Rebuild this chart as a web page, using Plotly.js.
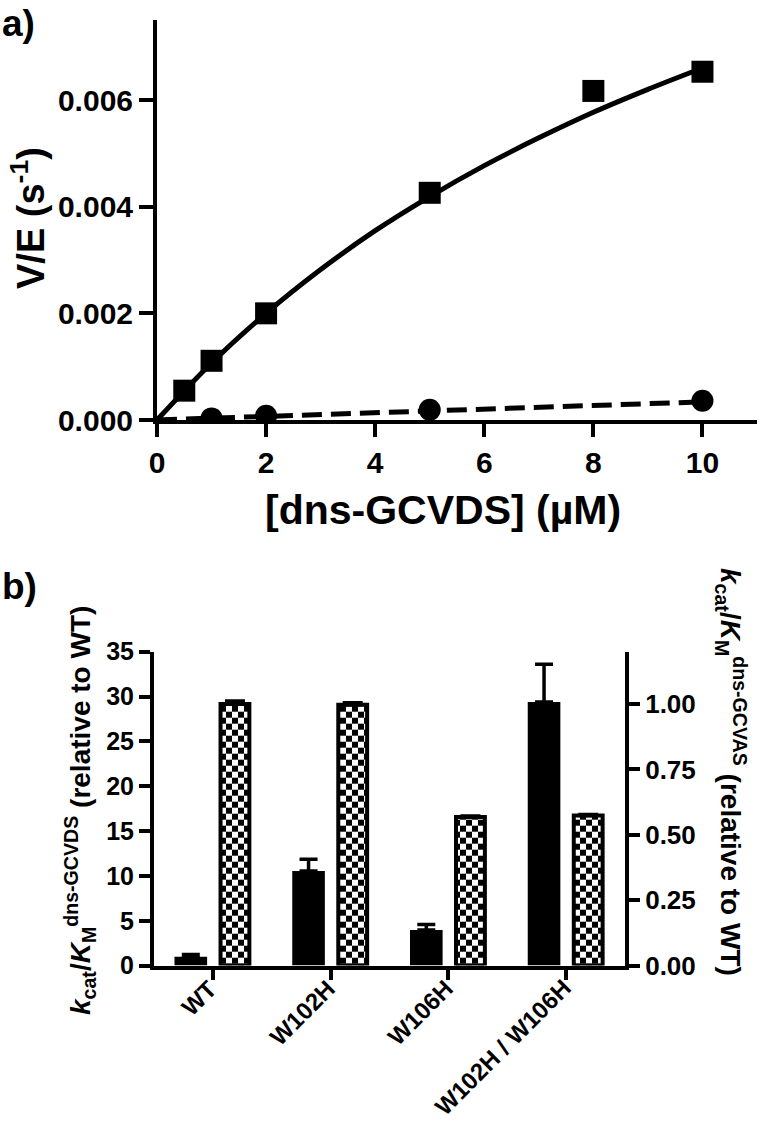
<!DOCTYPE html>
<html>
<head>
<meta charset="utf-8">
<script src="https://cdn.plot.ly/plotly-3.0.1.min.js"></script>
<style>html,body{margin:0;padding:0;background:#fff;}#plot{width:760px;height:1122px;}</style>
</head>
<body>
<div id="plot"></div>
<script>
// ---- Panel a data ----
const concX = [0.5, 1, 2, 5, 8, 10];
const wtRate = [0.00055, 0.00111, 0.00200, 0.00426, 0.00617, 0.00653];
const mutX = [1, 2, 5, 10];
const mutRate = [0.00003, 0.00008, 0.00019, 0.00036];
const fitX = [0, 1, 2, 3, 4, 5, 6, 7, 8, 9, 10];
const fitWT = [0, 0.00107, 0.00200, 0.00282, 0.00355, 0.00419, 0.00477, 0.00529, 0.00577, 0.00620, 0.00660];
const fitMutX = [0, 5, 10];
const fitMut = [0, 0.00017, 0.00034];
const xTicksA = [0, 2, 4, 6, 8, 10];
const yTicksA = [0, 0.002, 0.004, 0.006];

// ---- Panel b data ----
const variants = ['WT', 'W102H', 'W106H', 'W102H / W106H'];
const gcvdsRel = [1.0, 10.55, 3.98, 29.4];
const gcvdsErr = [0.25, 1.3, 0.6, 4.2];
const gcvasRel = [1.0, 0.997, 0.568, 0.574];
const gcvasErr = [0.012, 0.008, 0.004, 0.004];
const yTicksBLeft = [0, 5, 10, 15, 20, 25, 30, 35];
const yTicksBRight = [0, 0.25, 0.5, 0.75, 1.0];

const W = 760, H = 1122;
const px = v => v / W;
const py = v => 1 - v / H;
const FONT = 'Arial, "Liberation Sans", sans-serif';
const zeros = a => a.map(() => 0);

const traces = [
  {x: fitX, y: fitWT, xaxis: 'x', yaxis: 'y', mode: 'lines', line: {color: '#000', width: 5, shape: 'spline'}, hoverinfo: 'skip'},
  {x: fitMutX, y: fitMut, xaxis: 'x', yaxis: 'y', mode: 'lines', line: {color: '#000', width: 5, dash: '20px,9px'}, hoverinfo: 'skip'},
  {x: concX, y: wtRate, xaxis: 'x', yaxis: 'y', mode: 'markers', marker: {symbol: 'square', size: 22, color: '#000'}},
  {x: mutX, y: mutRate, xaxis: 'x', yaxis: 'y', mode: 'markers', marker: {symbol: 'circle', size: 22, color: '#000'}},
  {type: 'bar', x: variants, y: gcvdsRel, xaxis: 'x2', yaxis: 'y2', width: 0.277, offset: -0.326,
   marker: {color: '#000', line: {width: 0}},
   error_y: {type: 'data', symmetric: false, array: gcvdsErr, arrayminus: zeros(gcvdsErr), color: '#000', thickness: 3.5, width: 9}},
  {type: 'bar', x: variants, y: gcvasRel, xaxis: 'x2', yaxis: 'y3', width: 0.245, offset: 0.065,
   marker: {color: '#fff', line: {width: 4, color: '#000'},
     pattern: {shape: '+', size: 12, solidity: 0.5, fgcolor: '#000', bgcolor: '#fff', fillmode: 'replace'}},
   error_y: {type: 'data', symmetric: false, array: gcvasErr, arrayminus: zeros(gcvasErr), color: '#000', thickness: 3.5, width: 10}}
];

const axisCommon = {
  showline: true, linecolor: '#000', linewidth: 4, showgrid: false, zeroline: false,
  ticks: 'outside', tickcolor: '#000', tickwidth: 4, fixedrange: true
};

// category tick labels of panel b, rotated like the reference
const catLabels = variants.map((v, i) => ({
  text: v, xref: 'x2', yref: 'paper', x: i, y: py(973), xshift: 11,
  xanchor: 'right', yanchor: 'top', textangle: -45, showarrow: false, borderpad: 0,
  font: {family: FONT, size: 24, weight: 'bold', color: '#000'}
}));

const layout = {
  width: W, height: H,
  margin: {l: 0, r: 0, t: 0, b: 0},
  paper_bgcolor: '#fff', plot_bgcolor: 'rgba(0,0,0,0)',
  showlegend: false, barmode: 'overlay',
  font: {family: FONT, color: '#000'},
  xaxis: Object.assign({}, axisCommon, {
    domain: [px(157), px(757)], range: [0, 11], tickvals: xTicksA, ticklen: 13,
    tickfont: {family: FONT, size: 30, weight: 'bold', color: '#000'}, anchor: 'y'
  }),
  yaxis: Object.assign({}, axisCommon, {
    domain: [py(420), py(20)], range: [0, 0.0075], tickvals: yTicksA, tickformat: '.3f', ticklen: 14,
    tickfont: {family: FONT, size: 30, weight: 'bold', color: '#000'}, anchor: 'x'
  }),
  xaxis2: Object.assign({}, axisCommon, {
    domain: [px(154), px(625)], range: [-0.5, 3.5], type: 'category', ticklen: 10,
    showticklabels: false, anchor: 'y2'
  }),
  yaxis2: Object.assign({}, axisCommon, {
    domain: [py(965.6), py(651.7)], range: [0, 35], tickvals: yTicksBLeft, ticklen: 11,
    tickfont: {family: FONT, size: 25, weight: 'bold', color: '#000'}, anchor: 'x2'
  }),
  yaxis3: Object.assign({}, axisCommon, {
    domain: [py(965.6), py(651.7)], range: [0, 1.2], tickvals: yTicksBRight, tickformat: '.2f', ticklen: 11,
    side: 'right', overlaying: 'y2', anchor: 'x2',
    tickfont: {family: FONT, size: 26, weight: 'bold', color: '#000'}
  }),
  annotations: [
    {text: 'a)', xref: 'paper', yref: 'paper', x: 0, y: py(24), xanchor: 'left', yanchor: 'middle', showarrow: false,
     font: {family: FONT, size: 37, weight: 'bold', color: '#000'}},
    {text: 'b)', xref: 'paper', yref: 'paper', x: 0, y: py(586), xanchor: 'left', yanchor: 'middle', showarrow: false,
     font: {family: FONT, size: 37, weight: 'bold', color: '#000'}},
    {text: 'V/E (s<sup>-1</sup>)', xref: 'paper', yref: 'paper', x: px(28), y: py(218), xanchor: 'center', yanchor: 'middle',
     textangle: -90, showarrow: false, font: {family: FONT, size: 38, weight: 'bold', color: '#000'}},
    {text: '[dns-GCVDS] (\u00b5M)', xref: 'paper', yref: 'paper', x: px(443), y: py(510), xanchor: 'center', yanchor: 'middle',
     showarrow: false, font: {family: FONT, size: 41, weight: 'bold', color: '#000'}},
    {text: '<i>k</i><sub>cat</sub>/<i>K</i><sub>M</sub><sup>dns-GCVDS</sup> (relative to WT)', xref: 'paper', yref: 'paper',
     x: px(80), y: py(811), xanchor: 'center', yanchor: 'middle', textangle: -90, showarrow: false,
     font: {family: FONT, size: 28, weight: 'bold', color: '#000'}},
    {text: '<i>k</i><sub>cat</sub>/<i>K</i><sub>M</sub><sup>dns-GCVAS</sup> (relative to WT)', xref: 'paper', yref: 'paper',
     x: px(731), y: py(772), xanchor: 'center', yanchor: 'middle', textangle: 90, showarrow: false,
     font: {family: FONT, size: 28, weight: 'bold', color: '#000'}}
  ].concat(catLabels)
};

function checkerPatterns(gd) {
  const NS = 'http://www.w3.org/2000/svg';
  gd.querySelectorAll('pattern').forEach(p => {
    const w = parseFloat(p.getAttribute('width')) || 12;
    while (p.firstChild) p.removeChild(p.firstChild);
    const mk = (x, y, s, fill) => {
      const r = document.createElementNS(NS, 'rect');
      r.setAttribute('x', x); r.setAttribute('y', y);
      r.setAttribute('width', s); r.setAttribute('height', s);
      r.setAttribute('fill', fill);
      p.appendChild(r);
    };
    mk(0, 0, w, '#fff');
    mk(0, 0, w / 2, '#000');
    mk(w / 2, w / 2, w / 2, '#000');
  });
}

const gd = document.getElementById('plot');
Plotly.newPlot(gd, traces, layout, {staticPlot: true, displayModeBar: false}).then(() => checkerPatterns(gd));
</script>
</body>
</html>
